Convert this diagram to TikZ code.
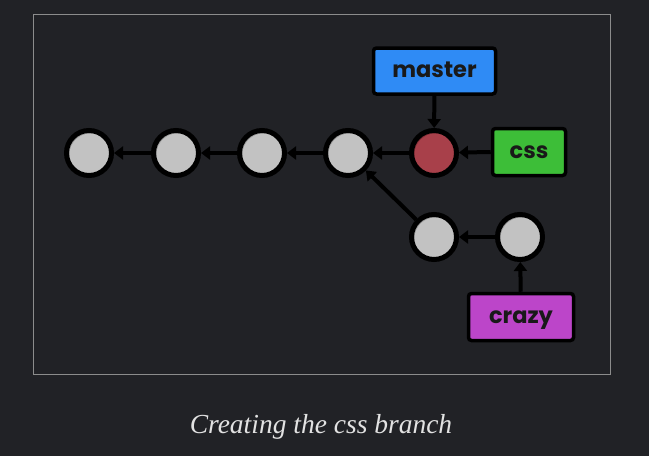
\documentclass[tikz,border=0pt]{standalone}
\usepackage{fontspec}
\setmainfont{Liberation Serif}
\newfontfamily\labelfont{Poppins}
\usetikzlibrary{arrows.meta}
\definecolor{bg}{HTML}{212226}
\definecolor{framec}{HTML}{8C8C8C}
\definecolor{commitgray}{HTML}{C2C2C2}
\definecolor{commitshade}{HTML}{9A9A9A}
\definecolor{commitred}{HTML}{A8404A}
\definecolor{commitredshade}{HTML}{863038}
\definecolor{masterblue}{HTML}{2F8BF5}
\definecolor{cssgreen}{HTML}{3DBE38}
\definecolor{crazypink}{HTML}{BC45C9}
\definecolor{captionc}{HTML}{E2E2E2}
\newcommand{\lbl}[1]{\raisebox{-6.5pt}[0pt][0pt]{#1}}
\tikzset{
  commit/.style={circle, draw=black, line width=5pt, minimum size=45pt, inner sep=0pt,
    fill=commitshade,
    path picture={\fill[commitgray] ([xshift=1.5pt,yshift=-1.5pt]path picture bounding box.center) circle (21pt);}},
  headcommit/.style={circle, draw=black, line width=5pt, minimum size=45pt, inner sep=0pt,
    fill=commitredshade,
    path picture={\fill[commitred] ([xshift=1.5pt,yshift=-1.5pt]path picture bounding box.center) circle (21pt);}},
  branchbox/.style={draw=black, line width=3.5pt, rounded corners=3pt, inner sep=0pt,
    font=\labelfont\bfseries\fontsize{22.5}{22.5}\selectfont, text=black!90},
  link/.style={line width=4pt, -{Triangle[length=9pt,width=13pt]}},
}
\begin{document}
\begin{tikzpicture}[x=1pt,y=-1pt]
\fill[bg] (0,0) rectangle (649,456);
\useasboundingbox (0,0) rectangle (649,456);
\draw[framec, line width=0.8pt] (33,14.5) rectangle (610,374);

\node[commit] (c1) at (89,153) {};
\node[commit] (c2) at (176,153) {};
\node[commit] (c3) at (262,153) {};
\node[commit] (c4) at (348,153) {};
\node[headcommit] (c5) at (434,153) {};
\node[commit] (d1) at (434,237) {};
\node[commit] (d2) at (520,237) {};

\node[branchbox, fill=masterblue, minimum width=122pt, minimum height=46pt] (master) at (434.5,71) {\lbl{master}};
\node[branchbox, fill=cssgreen, minimum width=73pt, minimum height=47pt] (css) at (529,152) {\lbl{css}};
\node[branchbox, fill=crazypink, minimum width=105pt, minimum height=47pt] (crazy) at (521,317) {\lbl{crazy}};

\draw[link] (c2) -- (c1);
\draw[link] (c3) -- (c2);
\draw[link] (c4) -- (c3);
\draw[link] (c5) -- (c4);
\draw[link] (d1) -- (c4);
\draw[link] (d2) -- (d1);
\draw[link] (master) -- (c5);
\draw[link] (css.west) -- (c5);
\draw[link] (crazy) -- (d2);

\node[text=captionc, font=\itshape\fontsize{27.5}{27.5}\selectfont] (cap) at (321,427) {Creating the css branch};
\end{tikzpicture}
\end{document}
